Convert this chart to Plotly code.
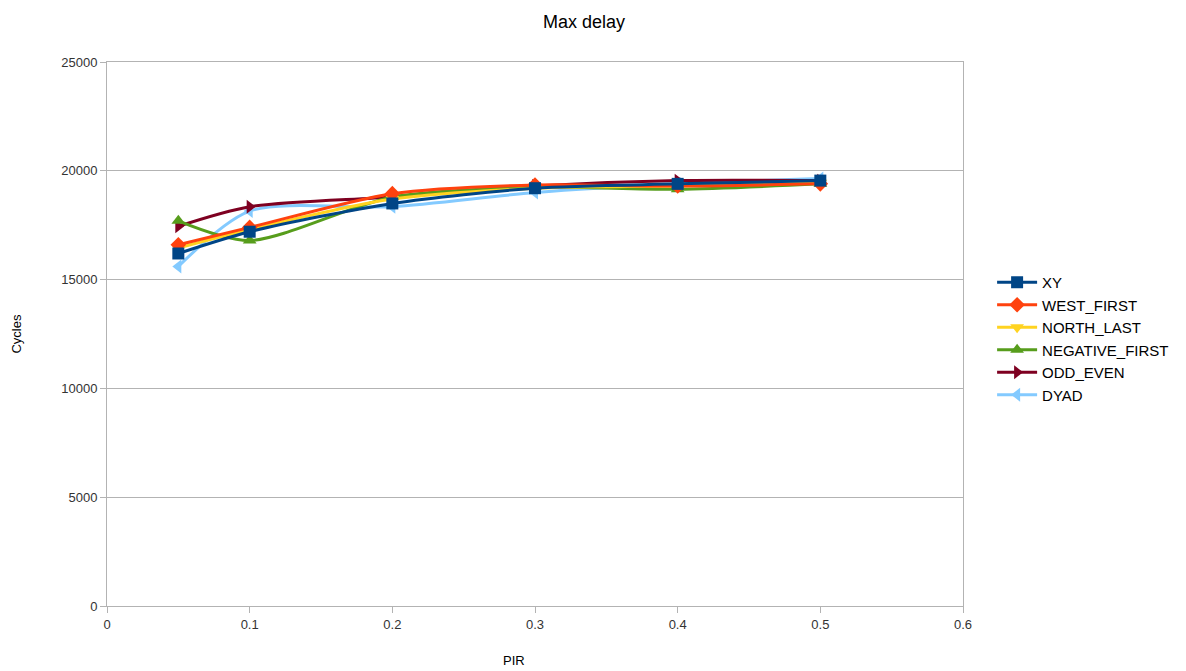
import plotly.graph_objects as go

pir = [0.05, 0.1, 0.2, 0.3, 0.4, 0.5]

xy = [16200, 17200, 18500, 19200, 19400, 19550]
west_first = [16600, 17400, 18950, 19350, 19300, 19400]
north_last = [16450, 17300, 18700, 19200, 19300, 19450]
negative_first = [17700, 16800, 18800, 19250, 19150, 19400]
odd_even = [17450, 18350, 18800, 19300, 19550, 19550]
dyad = [15600, 18150, 18350, 19000, 19400, 19650]

series = [
    ("XY", xy, "#004586", "square"),
    ("WEST_FIRST", west_first, "#ff420e", "diamond"),
    ("NORTH_LAST", north_last, "#ffd320", "triangle-down"),
    ("NEGATIVE_FIRST", negative_first, "#579d1c", "triangle-up"),
    ("ODD_EVEN", odd_even, "#7e0021", "triangle-right"),
    ("DYAD", dyad, "#83caff", "triangle-left"),
]

fig = go.Figure()
# draw in reverse so XY ends up on top
for name, vals, color, sym in reversed(series):
    fig.add_trace(go.Scatter(
        x=pir, y=vals, name=name, mode="lines+markers",
        line=dict(color=color, width=3, shape="spline", smoothing=0.8),
        marker=dict(symbol=sym, size=12, color=color),
    ))

font = "Liberation Sans, Arial, sans-serif"
fig.update_layout(
    width=1186, height=671,
    margin=dict(l=107, r=220, t=62, b=65),
    paper_bgcolor="white", plot_bgcolor="white",
    font=dict(family=font, size=13, color="#333333"),
    title=dict(text="Max delay", x=0.4924, xanchor="center", y=0.968, yanchor="middle",
               font=dict(size=18, color="#000000")),
    showlegend=True,
    legend=dict(x=1.034, y=0.625, xanchor="left", yanchor="top", traceorder="reversed",
                font=dict(size=15, color="#000000"), tracegroupgap=0, itemwidth=40,
                bgcolor="rgba(0,0,0,0)"),
    xaxis=dict(range=[0, 0.6], tickvals=[0, 0.1, 0.2, 0.3, 0.4, 0.5, 0.6],
               ticktext=["0", "0.1", "0.2", "0.3", "0.4", "0.5", "0.6"],
               showgrid=False, zeroline=False, showline=True, linecolor="#b3b3b3",
               linewidth=1, mirror=True, ticks="outside", ticklen=6, tickcolor="#b3b3b3",
               automargin=False),
    yaxis=dict(range=[0, 25000], tickvals=[0, 5000, 10000, 15000, 20000, 25000],
               ticktext=["0", "5000", "10000", "15000", "20000", "25000"],
               showgrid=True, gridcolor="#b3b3b3", gridwidth=1, zeroline=False,
               showline=True, linecolor="#b3b3b3", linewidth=1, mirror=True,
               ticks="outside", ticklen=6, tickcolor="#b3b3b3", automargin=False,
               title=dict(text="Cycles", standoff=36, font=dict(size=13, color="#000000"))),
    annotations=[dict(text="PIR", xref="paper", yref="paper", x=(515 - 107) / 859,
                      y=-(660 - 606) / 544, xanchor="center", yanchor="middle",
                      showarrow=False, font=dict(size=13, color="#000000"))],
)

fig.write_html("out.html")
